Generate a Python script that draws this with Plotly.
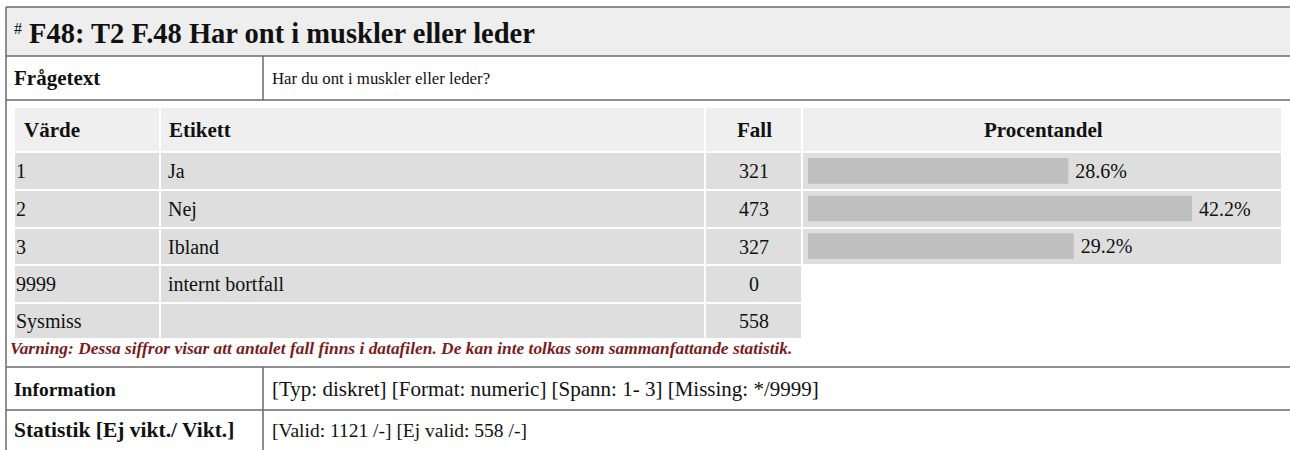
import plotly.graph_objects as go

# ---- data ----
title_text = "F48: T2 F.48 Har ont i muskler eller leder"
question_label = "Frågetext"
question_text = "Har du ont i muskler eller leder?"
headers = ["Värde", "Etikett", "Fall", "Procentandel"]
values = ["1", "2", "3", "9999", "Sysmiss"]
labels = ["Ja", "Nej", "Ibland", "internt bortfall", ""]
counts = [321, 473, 327, 0, 558]
bar_labels = ["Ja", "Nej", "Ibland"]
percents = [28.6, 42.2, 29.2]
warning = "Varning: Dessa siffror visar att antalet fall finns i datafilen. De kan inte tolkas som sammanfattande statistik."
info_label = "Information"
info_text = "[Typ: diskret] [Format: numeric] [Spann: 1- 3] [Missing: */9999]"
stat_label = "Statistik [Ej vikt./ Vikt.]"
stat_text = "[Valid: 1121 /-] [Ej valid: 558 /-]"

W, H = 1290, 450
SERIF = "Liberation Serif, Times New Roman, serif"
BORDER = "#6a6a6a"
HEAD_BG = "#efefef"
CELL_BG = "#dedede"
BAR_C = "#bfbfbf"
WARN_C = "#7b1c1c"

shapes = []
ann = []

def rect(x0, y0, x1, y1, fill):
    shapes.append(dict(type="rect", xref="x", yref="y", x0=x0, y0=y0, x1=x1, y1=y1,
                       fillcolor=fill, line=dict(width=0), layer="below"))

def line(x0, y0, x1, y1, w=1.5, c=BORDER):
    shapes.append(dict(type="line", xref="x", yref="y", x0=x0, y0=y0, x1=x1, y1=y1,
                       line=dict(color=c, width=w)))

def txt(x, y, s, size=19, bold=False, anchor="left", color="#111", italic=False):
    if bold:
        s = "<b>" + s + "</b>"
    if italic:
        s = "<i>" + s + "</i>"
    ann.append(dict(x=x, y=y, xref="x", yref="y", text=s, showarrow=False,
                    xanchor=anchor, yanchor="middle",
                    font=dict(family=SERIF, size=size, color=color)))

# title row
rect(6, 7, W, 56, "#eeeeee")
line(6, 7, W, 7)
line(6, 56, W, 56)
txt(12, 28, "#", size=16)
txt(27, 33, title_text, size=28.5, bold=True)

# question row
line(263, 56, 263, 100)
line(6, 100, W, 100)
txt(12, 78, question_label, size=21, bold=True)
txt(270, 78, question_text, size=16.8)

# inner frequency table
col_x = [15, 161, 706, 803, 1283]
rows_y = [(108, 151), (153, 189), (191, 227), (229, 264), (266, 302), (304, 338)]
for i in range(4):
    rect(col_x[i], rows_y[0][0], col_x[i + 1] - 2, rows_y[0][1], HEAD_BG)
for r in range(1, 6):
    ncol = 4 if r <= 3 else 3
    for i in range(ncol):
        rect(col_x[i], rows_y[r][0], col_x[i + 1] - 2, rows_y[r][1], CELL_BG)

hy = (rows_y[0][0] + rows_y[0][1]) / 2
txt(22, hy, headers[0], size=21, bold=True)
txt(167, hy, headers[1], size=21, bold=True)
txt(754, hy, headers[2], size=21, bold=True, anchor="center")
txt(1043, hy, headers[3], size=21, bold=True, anchor="center")
for r in range(5):
    cy = (rows_y[r + 1][0] + rows_y[r + 1][1]) / 2
    txt(14, cy, values[r], size=20)
    txt(166, cy, labels[r], size=20)
    txt(754, cy, str(counts[r]), size=20, anchor="center")

txt(8, 348, warning, size=17.4, bold=True, italic=True, color=WARN_C)

# info rows
line(6, 367, W, 367)
line(263, 367, 263, 450)
line(6, 410, W, 410)
txt(12, 389, info_label, size=19.5, bold=True)
txt(270, 389, info_text, size=21)
txt(12, 430, stat_label, size=21.5, bold=True)
txt(270, 430, stat_text, size=19.5)

# left border
line(6, 7, 6, H)

fig = go.Figure()
# invisible trace to anchor main axis
fig.add_trace(go.Scatter(x=[0, W], y=[0, H], mode="markers", marker=dict(opacity=0),
                         hoverinfo="skip", showlegend=False))

bx0, bx1 = 808, 1283
fig.add_trace(go.Bar(
    x=percents, y=bar_labels, orientation="h", xaxis="x2", yaxis="y2",
    marker=dict(color=BAR_C, line=dict(width=0)), width=0.68,
    text=["\u2009" + f"{p:.1f}%" for p in percents], textposition="outside",
    textfont=dict(family=SERIF, size=20, color="#111"), cliponaxis=False,
    showlegend=False, hoverinfo="skip"))

y_top, y_bot = 152, 265
fig.update_layout(
    width=W, height=H, margin=dict(l=0, r=0, t=0, b=0),
    paper_bgcolor="white", plot_bgcolor="rgba(0,0,0,0)",
    xaxis=dict(range=[0, W], visible=False, domain=[0, 1]),
    yaxis=dict(range=[H, 0], visible=False, domain=[0, 1]),
    xaxis2=dict(range=[0, (bx1 - bx0) / 9.1], domain=[bx0 / W, bx1 / W], visible=False,
                anchor="y2"),
    yaxis2=dict(domain=[1 - y_bot / H, 1 - y_top / H], visible=False, anchor="x2",
                categoryorder="array", categoryarray=bar_labels, autorange="reversed"),
    shapes=shapes, annotations=ann,
    uniformtext=dict(mode=False),
)

fig.write_html("out.html", config={"displayModeBar": False},
               post_script="document.body.style.margin='0';")
